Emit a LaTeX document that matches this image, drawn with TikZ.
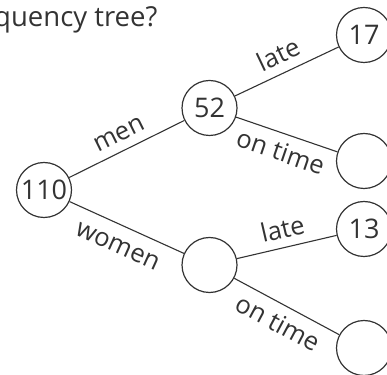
\documentclass[tikz,border=0pt]{standalone}
\usepackage{fontspec}
\setmainfont{Open Sans}
\definecolor{ink}{HTML}{333333}
\begin{document}
\begin{tikzpicture}[x=1pt,y=1pt,
  circ/.style={circle,draw=ink,line width=1.2pt,minimum size=55pt,inner sep=0pt,text=ink,font=\fontsize{27}{30}\selectfont},
  edge/.style={draw=ink,line width=1.1pt},
  lab/.style={text=ink,font=\fontsize{25.5}{28}\selectfont,sloped,midway},
  labup/.style={lab,above,inner sep=8.5pt},
  labdn/.style={lab,below,inner sep=7pt,text height=20pt}]
\useasboundingbox (0,0) rectangle (387,374);
\clip (0,0) rectangle (387,374);
\node[anchor=base west,text=ink,font=\fontsize{27.5}{30}\selectfont,inner sep=0pt] (title) at (-6,347) {quency tree?};
\node[circ] (root) at (44,184) {110};
\node[circ] (men) at (209.5,266) {52};
\node[circ] (women) at (209.5,109) {};
\node[circ] (a) at (364,339) {17};
\node[circ] (b) at (364,213) {};
\node[circ] (c) at (364,145) {13};
\node[circ] (d) at (364,26) {};
\draw[edge] (root) -- node[labup] {men} (men);
\draw[edge] (root) -- node[labdn] {women} (women);
\draw[edge] (men) -- node[labup] {late} (a);
\draw[edge] (men) -- node[labdn] {on time} (b);
\draw[edge] (women) -- node[labup] {late} (c);
\draw[edge] (women) -- node[labdn] {on time} (d);
\end{tikzpicture}
\end{document}
